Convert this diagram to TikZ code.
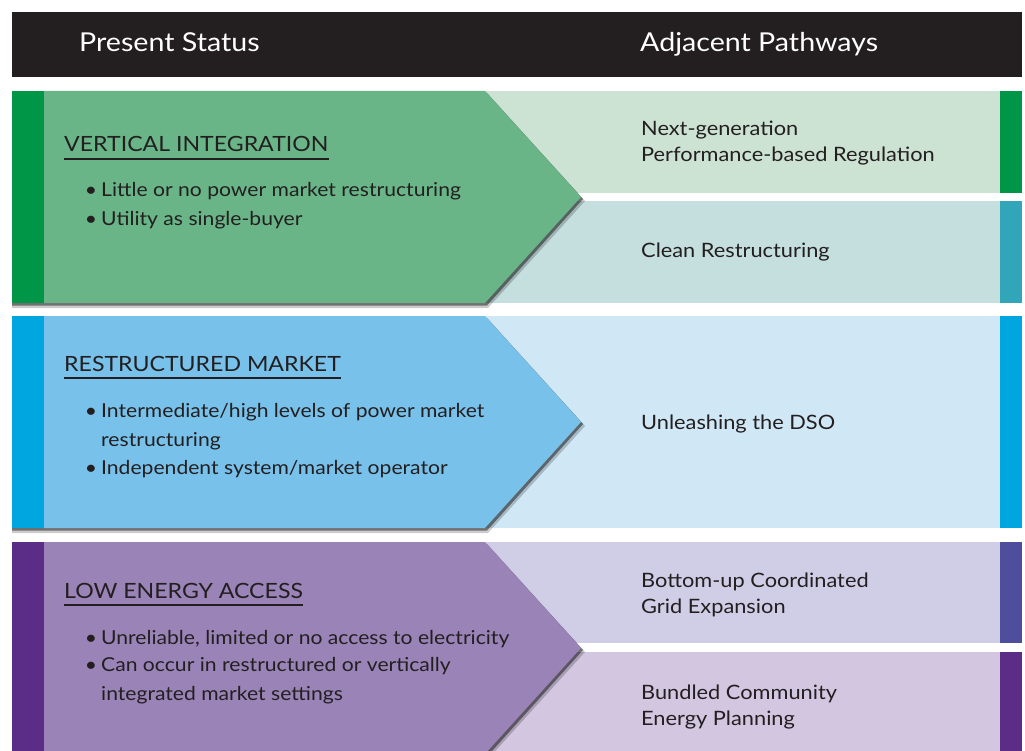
\documentclass[tikz,border=0pt]{standalone}
\usepackage{fontspec}
\setmainfont{Lato}[FakeStretch=1.1]
\usetikzlibrary{positioning}

\definecolor{ink}{HTML}{231F20}
\definecolor{viBar}{HTML}{009648}
\definecolor{viArrow}{HTML}{69B587}
\definecolor{viPanelA}{HTML}{CCE2D2}
\definecolor{viPanelB}{HTML}{C5DEDE}
\definecolor{viStripB}{HTML}{31A6B8}
\definecolor{rmBar}{HTML}{00A6DF}
\definecolor{rmArrow}{HTML}{78C1EA}
\definecolor{rmPanel}{HTML}{D0E7F5}
\definecolor{leBar}{HTML}{5C2D86}
\definecolor{leArrow}{HTML}{9A83B7}
\definecolor{lePanelA}{HTML}{D0CDE6}
\definecolor{leStripA}{HTML}{4E4E9D}
\definecolor{lePanelB}{HTML}{D3C6E0}

\newcommand{\itemdot}{\llap{\textbullet\hspace{4pt}}}

\begin{document}
\begin{tikzpicture}[x=1pt, y=-1pt,
    txt/.style={inner sep=0pt, anchor=base west, text=ink, align=left},
    title/.style={txt, text=white, font=\fontsize{26}{30}\selectfont},
    head/.style={txt, font=\fontsize{21}{26}\selectfont},
    item/.style={txt, font=\fontsize{19.2}{28.5}\selectfont},
    pathway/.style={txt, font=\fontsize{19.8}{26}\selectfont},
    uline/.style={ink, line width=1.6pt}]

    \useasboundingbox (0,0) rectangle (1025,751);
    \clip (0,0) rectangle (1025,751);

    % header bar
    \fill[ink] (12,12) rectangle (1022,77);
    \node[title] (present) at (79,52) {Present Status};
    \node[title] (adjacent) at (640,52) {Adjacent Pathways};

    % pathway panels with their coloured strips
    \foreach \top/\bot/\pan/\strip in {91/193/viPanelA/viBar, 201/303/viPanelB/viStripB,
            316/528/rmPanel/rmBar, 542/643/lePanelA/leStripA, 652/754/lePanelB/leBar}{
        \fill[\pan] (480,\top) rectangle (1000,\bot);
        \fill[\strip] (1000,\top) rectangle (1022,\bot);
    }

    % status arrows
    \foreach \top/\bar/\arr in {91/viBar/viArrow, 316/rmBar/rmArrow, 542/leBar/leArrow}{
        \fill[black, opacity=.2] (12,\top+4) -- (488,\top+4) -- (585,\top+110) -- (488,\top+217) -- (12,\top+217) -- cycle;
        \fill[black, opacity=.45] (12,\top+2) -- (487,\top+2) -- (583,\top+108) -- (487,\top+214.5) -- (12,\top+214.5) -- cycle;
        \fill[\arr] (44,\top) -- (485,\top) -- (581,\top+106) -- (485,\top+212) -- (44,\top+212) -- cycle;
        \fill[\bar] (12,\top) rectangle (44,\top+212);
    }

    % vertical integration (multi-line nodes sit on their last baseline)
    \node[head] (viHead) at (64,152) {VERTICAL INTEGRATION};
    \draw[uline] ([yshift=-7pt]viHead.base west) -- ([yshift=-7pt]viHead.base east);
    \node[item] (viOne) at (101,197) {\itemdot Little or no power market restructuring};
    \node[item] (viTwo) at (101,226) {\itemdot Utility as single-buyer};
    \node[pathway] (nextGen) at (641,162) {Next-generation\\Performance-based Regulation};
    \node[pathway] (clean) at (641,258) {Clean Restructuring};

    % restructured market
    \node[head] (rmHead) at (64,371) {RESTRUCTURED MARKET};
    \draw[uline] ([yshift=-7pt]rmHead.base west) -- ([yshift=-7pt]rmHead.base east);
    \node[item] (rmOne) at (101,446) {\itemdot Intermediate/high levels of power market\\restructuring};
    \node[item] (rmTwo) at (101,474) {\itemdot Independent system/market operator};
    \node[pathway] (dso) at (641,429) {Unleashing the DSO};

    % low energy access
    \node[head] (leHead) at (64,598) {LOW ENERGY ACCESS};
    \draw[uline] ([yshift=-7pt]leHead.base west) -- ([yshift=-7pt]leHead.base east);
    \node[item] (leOne) at (101,644) {\itemdot Unreliable, limited or no access to electricity};
    \node[item] (leTwo) at (101,700) {\itemdot Can occur in restructured or vertically\\integrated market settings};
    \node[pathway] (bottomUp) at (641,613) {Bottom-up Coordinated\\Grid Expansion};
    \node[pathway] (bundled) at (641,725) {Bundled Community\\Energy Planning};

\end{tikzpicture}
\end{document}
